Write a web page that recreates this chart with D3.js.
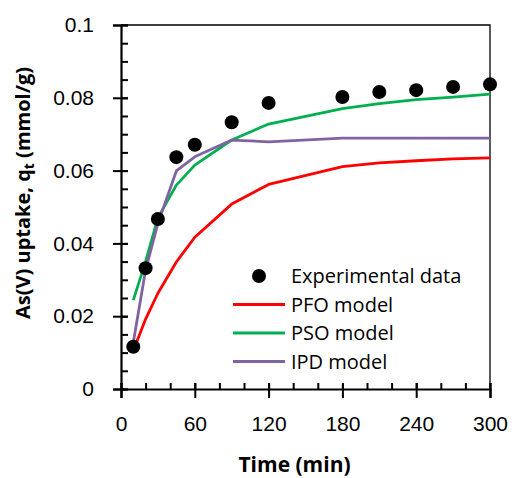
<!DOCTYPE html>
<html>
<head>
<meta charset="utf-8">
<script src="https://cdn.jsdelivr.net/npm/d3@7"></script>
<style>
  body { margin: 0; background: #fff; }
  svg { display: block; font-family: "Open Sans", sans-serif; }
</style>
</head>
<body>
<svg id="chart" width="512" height="478"></svg>
<script>
// time points (min)
const times = [10, 20, 30, 45, 60, 90, 120, 180, 210, 240, 270, 300];
// As(V) uptake, mmol/g
const experimental = [0.0116, 0.0332, 0.0467, 0.0637, 0.0671, 0.0733, 0.0786, 0.0802, 0.0816, 0.0821, 0.0830, 0.0837];
const pfo = [0.0105, 0.0192, 0.0263, 0.0349, 0.0417, 0.0508, 0.0562, 0.0611, 0.0621, 0.0627, 0.0632, 0.0635];
const pso = [0.0244, 0.0350, 0.0470, 0.0560, 0.0615, 0.0684, 0.0728, 0.0770, 0.0784, 0.0795, 0.0802, 0.0810];
const ipd = [0.0128, 0.0327, 0.0455, 0.0599, 0.0638, 0.0684, 0.0679, 0.0689, 0.0689, 0.0689, 0.0689, 0.0689];

const xTicks = [0, 60, 120, 180, 240, 300];
const yTicks = [0, 0.02, 0.04, 0.06, 0.08, 0.1];

const models = [
  { name: "PFO model", values: pfo, color: "#ff0000" },
  { name: "PSO model", values: pso, color: "#00b050" },
  { name: "IPD model", values: ipd, color: "#8064a2" },
];

const svg = d3.select("#chart");
const margin = { top: 25, right: 22, bottom: 89, left: 121 };
const width = 512 - margin.left - margin.right;
const height = 478 - margin.top - margin.bottom;

const g = svg.append("g")
  .attr("transform", `translate(${margin.left},${margin.top})`);

const x = d3.scaleLinear().domain([0, 300]).range([0, width]);
const y = d3.scaleLinear().domain([0, 0.1]).range([height, 0]);

// frame (top and right)
g.append("path")
  .attr("d", `M0,0H${width}V${height}`)
  .attr("fill", "none")
  .attr("stroke", "#000")
  .attr("stroke-width", 1.3);

// minor ticks
g.append("g")
  .call(d3.axisLeft(y).tickValues(d3.range(0, 0.1001, 0.005)).tickSize(-7).tickFormat(""))
  .call((a) => a.select(".domain").remove())
  .selectAll("line").attr("stroke-width", 2);

g.append("g")
  .attr("transform", `translate(0,${height})`)
  .call(d3.axisBottom(x).tickValues(d3.range(0, 301, 20)).tickSize(-6).tickFormat(""))
  .call((a) => a.select(".domain").remove())
  .selectAll("line").attr("stroke-width", 2);

// y axis
const yAxis = g.append("g")
  .call(d3.axisLeft(y).tickValues(yTicks).tickSize(8).tickPadding(19)
    .tickFormat((d) => (d === 0 ? "0" : d3.format("")(+d.toFixed(2)))));
yAxis.select(".domain").attr("stroke-width", 2.2);
yAxis.selectAll(".tick line").attr("stroke-width", 2).attr("x2", -8).attr("x1", 7);
yAxis.selectAll("text").style("font-size", "21px").attr("fill", "#000");

// x axis
const xAxis = g.append("g")
  .attr("transform", `translate(0,${height})`)
  .call(d3.axisBottom(x).tickValues(xTicks).tickSize(9).tickPadding(18));
xAxis.select(".domain").attr("stroke-width", 2.2);
xAxis.selectAll(".tick line").attr("stroke-width", 2).attr("y1", -6);
xAxis.selectAll("text").style("font-size", "21px").attr("fill", "#000");

// model lines
const line = d3.line()
  .x((d, i) => x(times[i]))
  .y((d) => y(d));

models.forEach((m) => {
  g.append("path")
    .datum(m.values)
    .attr("fill", "none")
    .attr("stroke", m.color)
    .attr("stroke-width", 2.8)
    .attr("stroke-linejoin", "round")
    .attr("d", line);
});

// experimental points
g.selectAll(".dot")
  .data(experimental)
  .enter()
  .append("circle")
  .attr("class", "dot")
  .attr("cx", (d, i) => x(times[i]))
  .attr("cy", (d) => y(d))
  .attr("r", 7)
  .attr("fill", "#000");

// legend
const legend = svg.append("g").attr("transform", "translate(233,276)");
legend.append("circle").attr("cx", 26).attr("cy", 0).attr("r", 7).attr("fill", "#000");
legend.append("text").attr("x", 58).attr("y", 7).style("font-size", "20px").text("Experimental data");
models.forEach((m, i) => {
  const yy = 28.5 * (i + 1);
  legend.append("line")
    .attr("x1", 0).attr("x2", 52)
    .attr("y1", yy).attr("y2", yy)
    .attr("stroke", m.color).attr("stroke-width", 2.8);
  legend.append("text").attr("x", 58).attr("y", yy + 7).style("font-size", "20px").text(m.name);
});

// axis titles
svg.append("text")
  .attr("x", margin.left + width / 2 - 11)
  .attr("y", 472)
  .attr("text-anchor", "middle")
  .style("font-size", "21px")
  .style("font-weight", "bold")
  .text("Time (min)");

const yt = svg.append("text")
  .attr("transform", `translate(30,193) rotate(-90)`)
  .attr("text-anchor", "middle")
  .style("font-size", "20px")
  .style("font-weight", "bold");
yt.append("tspan").text("As(V) uptake, q");
yt.append("tspan").attr("dy", 4).style("font-size", "14px").text("t");
yt.append("tspan").attr("dy", -4).text("  (mmol/g)");
</script>
</body>
</html>
